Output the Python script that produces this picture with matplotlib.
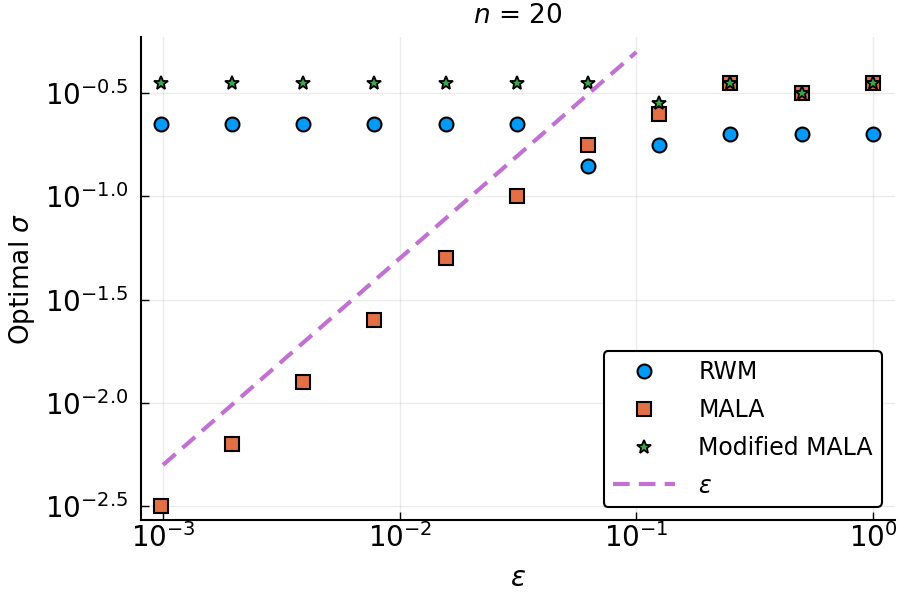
import matplotlib
matplotlib.use("Agg")
import matplotlib.pyplot as plt
from matplotlib.ticker import FixedLocator, NullLocator

# step sizes eps = 2^-10 ... 2^0
eps = [2.0 ** k for k in range(-10, 1)]

# optimal sigma
rwm = [0.224, 0.224, 0.224, 0.224, 0.224, 0.224, 0.141, 0.178, 0.200, 0.200, 0.200]
mala = [0.00316, 0.00632, 0.0126, 0.0251, 0.0501, 0.100, 0.178, 0.251, 0.355, 0.316, 0.355]
mod_mala = [0.355, 0.355, 0.355, 0.355, 0.355, 0.355, 0.355, 0.284, 0.355, 0.316, 0.355]

# reference line
ref_x = [1e-3, 1e-1]
ref_y = [5e-3, 5e-1]

yticks = [10 ** -2.5, 10 ** -2.0, 10 ** -1.5, 10 ** -1.0, 10 ** -0.5]
ytick_labels = [r'$10^{-2.5}$', r'$10^{-2.0}$', r'$10^{-1.5}$', r'$10^{-1.0}$', r'$10^{-0.5}$']
xticks = [1e-3, 1e-2, 1e-1, 1e0]
xtick_labels = [r'$10^{-3}$', r'$10^{-2}$', r'$10^{-1}$', r'$10^{0}$']

plt.rcParams['mathtext.fontset'] = 'dejavusans'

fig = plt.figure(figsize=(9, 6), dpi=100)
ax = fig.add_axes([0.1567, 0.1333, 0.9944 - 0.1567, 0.9383 - 0.1333])

ax.plot(eps, rwm, 'o', color='#009AFA', markersize=10, markeredgecolor='black',
        markeredgewidth=1.5, label='RWM')
ax.plot(eps, mala, 's', color='#E26F46', markersize=9.5, markeredgecolor='black',
        markeredgewidth=1.5, label='MALA')
ax.plot(eps, mod_mala, '*', color='#3DA44D', markersize=10, markeredgecolor='black',
        markeredgewidth=1.3, label='Modified MALA')
ax.plot(ref_x, ref_y, '--', color='#C271D2', linewidth=3, dashes=(4, 2.2), label=r'$\varepsilon$')

ax.set_xscale('log')
ax.set_yscale('log')
ax.set_xlim(10 ** -3.093, 10 ** 0.093)
ax.set_ylim(10 ** -2.568, 10 ** -0.228)

ax.xaxis.set_major_locator(FixedLocator(xticks))
ax.xaxis.set_minor_locator(NullLocator())
ax.set_xticklabels(xtick_labels)
ax.yaxis.set_major_locator(FixedLocator(yticks))
ax.yaxis.set_minor_locator(NullLocator())
ax.set_yticklabels(ytick_labels)

ax.tick_params(direction='in', labelsize=20, length=6, width=1)
ax.tick_params(axis='x', pad=2)
ax.tick_params(axis='y', pad=9)
ax.grid(True, color='black', alpha=0.08, linewidth=1)
for s in ['top', 'right']:
    ax.spines[s].set_visible(False)
for s in ['left', 'bottom']:
    ax.spines[s].set_linewidth(1.5)

ax.set_xlabel(r'$\varepsilon$', fontsize=20, labelpad=8)
ax.set_ylabel(r'Optimal $\sigma$', fontsize=19, labelpad=6)
ax.set_title(r'$n$ = 20', fontsize=19, pad=10)

leg = ax.legend(loc='lower right', fontsize=17, frameon=True, fancybox=True,
                edgecolor='black', framealpha=1, borderpad=0.4, handlelength=2.6,
                handletextpad=1.0, labelspacing=0.58, borderaxespad=0,
                bbox_to_anchor=(0.983, 0.027))
leg.get_frame().set_linewidth(1.5)

fig.savefig('out.png', dpi=100)
